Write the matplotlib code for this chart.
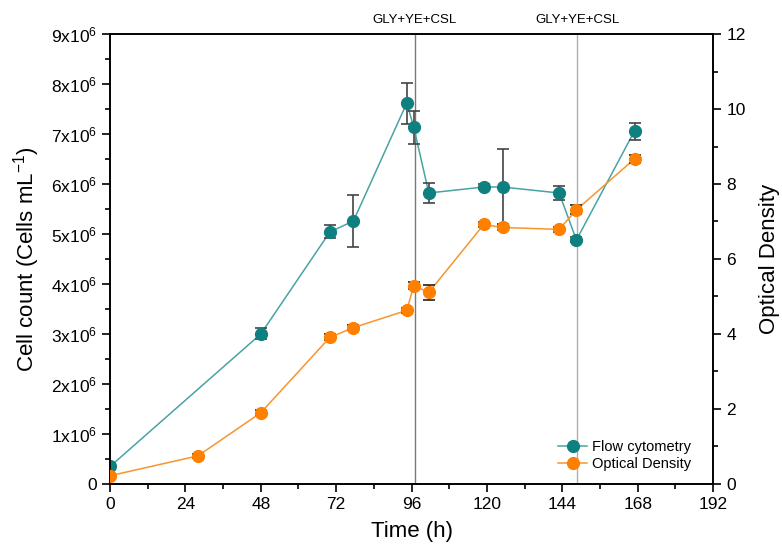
import matplotlib
matplotlib.use("Agg")
import matplotlib.pyplot as plt
from matplotlib.lines import Line2D
from matplotlib.ticker import MultipleLocator, FuncFormatter

plt.rcParams["font.family"] = ["Liberation Sans", "DejaVu Sans"]
plt.rcParams["mathtext.fontset"] = "custom"
plt.rcParams["mathtext.rm"] = "Liberation Sans"
plt.rcParams["mathtext.it"] = "Liberation Sans:italic"

# Flow cytometry (cells per mL, in units of 1e6)
fc_time = [0, 48, 70, 77.5, 94.5, 96.7, 101.5, 119, 125, 143, 148.5, 167]
fc_count = [0.35, 3.0, 5.04, 5.26, 7.62, 7.14, 5.82, 5.94, 5.94, 5.82, 4.88, 7.06]
fc_err = [0.05, 0.11, 0.13, 0.52, 0.41, 0.33, 0.2, 0.05, 0.77, 0.14, 0.05, 0.17]

# Optical density
od_time = [0, 28, 48, 70, 77.5, 94.5, 96.7, 101.5, 119, 125, 143, 148.5, 167]
od_value = [0.22, 0.75, 1.9, 3.91, 4.17, 4.63, 5.29, 5.11, 6.92, 6.84, 6.79, 7.31, 8.67]
od_err = [0.05, 0.06, 0.06, 0.08, 0.06, 0.06, 0.1, 0.2, 0.07, 0.08, 0.06, 0.12, 0.1]

# Feeding events
feed_time = [97, 148.7]
feed_label = "GLY+YE+CSL"
feed_colors = ["#777777", "#b0b0b0"]

teal = "#0e8080"
teal_line = "#4aa3a3"
orange = "#ff8000"
orange_line = "#f5962e"
err_color = "#444444"

fig = plt.figure(figsize=(7.82, 5.52), dpi=100)
ax = fig.add_axes([0.1407, 0.1232, 0.7711, 0.8152])
ax2 = ax.twinx()

for t, c in zip(feed_time, feed_colors):
    ax.axvline(t, color=c, lw=1.0, zorder=1)
    ax.text(t, 1.018, feed_label, transform=ax.get_xaxis_transform(),
            ha="center", va="bottom", fontsize=9.5)

ax.plot(fc_time, fc_count, color=teal_line, lw=1.1, zorder=2)
ax.errorbar(fc_time, fc_count, yerr=fc_err, fmt="o", color=teal, ms=8.5,
            ecolor=err_color, elinewidth=1.2, capsize=4, capthick=1.2, zorder=3)

ax2.plot(od_time, od_value, color=orange_line, lw=1.1, zorder=2)
ax2.errorbar(od_time, od_value, yerr=od_err, fmt="o", color=orange, ms=8.5,
             ecolor="#222222", elinewidth=1.2, capsize=4, capthick=1.2, zorder=3)

ax.set_xlim(0, 192)
ax.set_ylim(0, 9)
ax2.set_ylim(0, 12)

ax.xaxis.set_major_locator(MultipleLocator(24))
ax.xaxis.set_minor_locator(MultipleLocator(12))
ax.yaxis.set_major_locator(MultipleLocator(1))
ax.yaxis.set_minor_locator(MultipleLocator(0.5))
ax2.yaxis.set_major_locator(MultipleLocator(2))
ax2.yaxis.set_minor_locator(MultipleLocator(1))


def sci_label(v, pos):
    if abs(v) < 1e-9:
        return "0"
    return r"%dx10$^{6}$" % round(v)


ax.yaxis.set_major_formatter(FuncFormatter(sci_label))

for a in (ax, ax2):
    a.tick_params(which="major", direction="out", length=6, width=1.2, labelsize=12.5)
    a.tick_params(which="minor", direction="out", length=3.5, width=1.2)
    for s in a.spines.values():
        s.set_linewidth(1.2)

ax.set_xlabel("Time (h)", fontsize=16, labelpad=6)
ax.set_ylabel(r"Cell count (Cells mL$^{-1}$)", fontsize=16, labelpad=6)
ax2.set_ylabel("Optical Density", fontsize=16, labelpad=10)

handles = [
    Line2D([], [], color=teal_line, lw=1.1, marker="o", ms=8.5,
           markerfacecolor=teal, markeredgecolor=teal),
    Line2D([], [], color=orange_line, lw=1.1, marker="o", ms=8.5,
           markerfacecolor=orange, markeredgecolor=orange),
]
ax.legend(handles, ["Flow cytometry", "Optical Density"], loc="lower right",
          bbox_to_anchor=(0.985, 0.0), frameon=False, fontsize=10.5,
          handlelength=2.0, handletextpad=0.3, labelspacing=0.2)

fig.savefig("out.png", dpi=100)
